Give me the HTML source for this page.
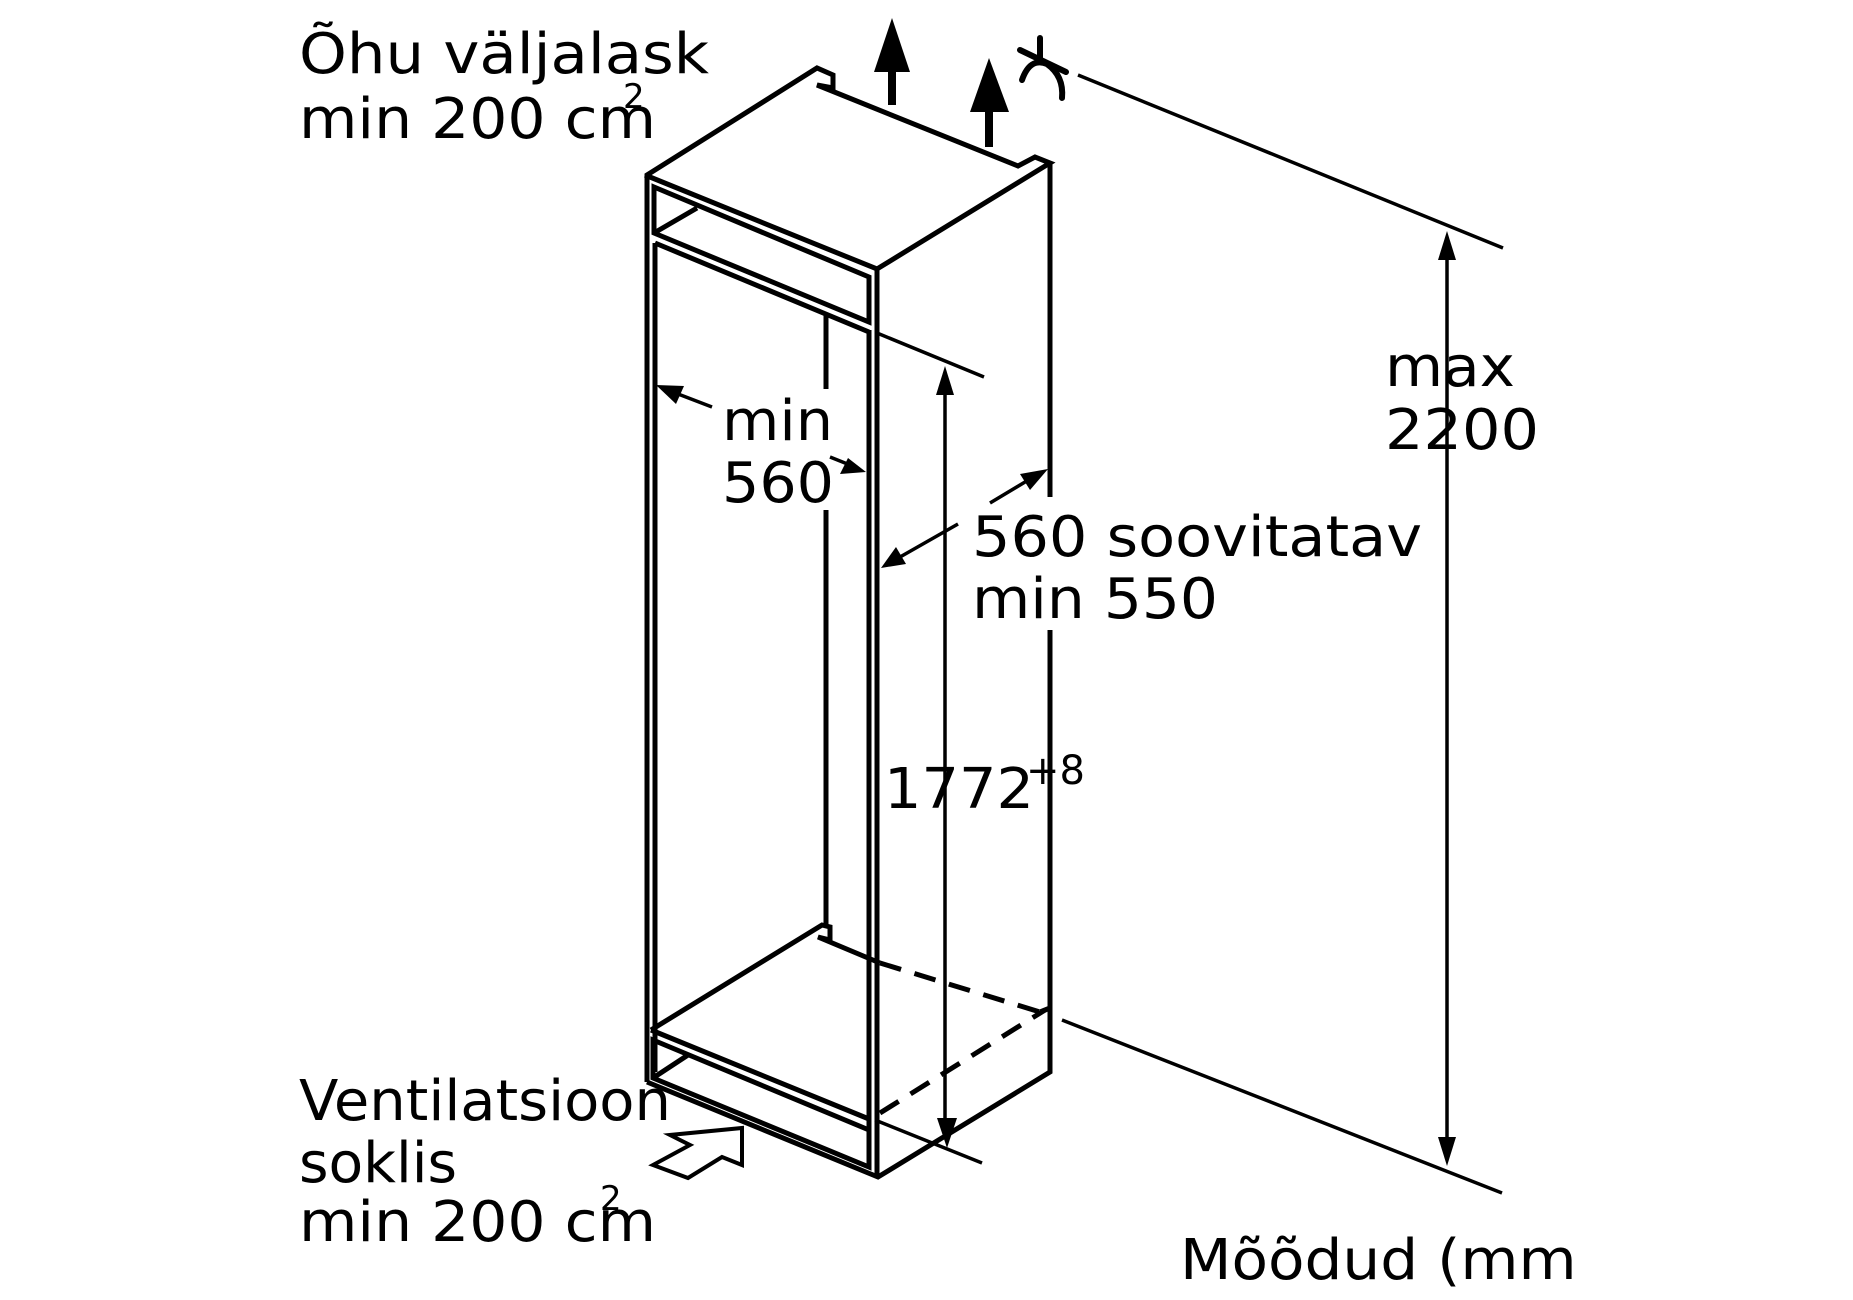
<!DOCTYPE html>
<html><head><meta charset="utf-8"><style>
html,body{margin:0;padding:0;background:#fff;width:1853px;height:1300px;overflow:hidden}
svg{display:block}
text{font-family:"DejaVu Sans","Liberation Sans",sans-serif;fill:#000}
</style></head><body>
<svg width="1853" height="1300" viewBox="0 0 1853 1300" xmlns="http://www.w3.org/2000/svg">
<defs><clipPath id="c"><rect x="0" y="0" width="1576" height="1300"/></clipPath></defs>
<g fill="none" stroke="#000" stroke-width="5" stroke-linejoin="miter">
<path d="M647,1082 L647,175 L817,68 L833,75 L833,88 L817,85 L1018,166 L1035,157 L1050,163 L877,269 L645,175"/>
<path d="M1050,163 L1050,497 M1050,630 L1050,1072 L878,1177 L647,1082"/>
<path d="M877,269 L877,1177 M869,330 L869,1167"/>
<path d="M654,187 L869,277 L869,322 L654,233 Z M654,233 L697,208"/>
<path d="M655,243 L869,332 M655,243 L655,1072"/>
<path d="M826,313 L826,389 M826,510 L826,925"/>
<path d="M651,1030 L869,1119 M651,1030 L822,925 L830,927 L830,940 L818,937 L880,963"/>
<path d="M653,1040 L869,1130 L869,1167 L653,1078 Z M653,1078 L688,1055"/>
<path d="M880,963 L1040,1012 M880,1113 L1045,1010" stroke-dasharray="22,14"/>
<path d="M1040,1012 L1050,1008"/>
<path d="M877,333 L984,377 M875,1120 L982,1163" stroke-width="3.5"/>
<path d="M1078,75 L1503,248 M1062,1020 L1502,1193" stroke-width="3.5"/>
<path d="M945,380 L945,1125" stroke-width="3.5"/>
<path d="M1447,245 L1447,1150" stroke-width="3.5"/>
<path d="M712,407 L665,389 M830,457 L855,467" stroke-width="3.5"/>
<path d="M990,503 L1035,476 M958,524 L893,561" stroke-width="3.5"/>
<path d="M892,105 L892,60 M989,147 L989,105" stroke-width="8"/>
<path d="M1040,38 L1040,62 M1020,50 L1066,72" stroke-width="6" stroke-linecap="round"/>
<path d="M1022,80 Q1030,57 1047,64 Q1064,76 1062,98" stroke-width="6" stroke-linecap="round"/>
<path d="M653,1165 L688,1178 L722,1157 L742,1165 L742,1128 L670,1135 L690,1145 Z" stroke-width="4"/>
</g>
<g fill="#000" stroke="none">
<polygon points="892,18 874,72 910,72"/>
<polygon points="989,58 970,112 1009,112"/>
<polygon points="945,366 936,395 954,395"/>
<polygon points="947,1148 937,1118 957,1118"/>
<polygon points="1447,231 1438,260 1456,260"/>
<polygon points="1447,1166 1438,1137 1456,1137"/>
<polygon points="656,385 684,386 676,404"/>
<polygon points="866,472 840,474 848,458"/>
<polygon points="1048,469 1020,474 1030,490"/>
<polygon points="881,568 896,547 906,564"/>
</g>
<g font-size="56">
<text x="299" y="73" textLength="410" lengthAdjust="spacingAndGlyphs">Õhu väljalask</text>
<text x="299" y="138" textLength="357" lengthAdjust="spacingAndGlyphs">min 200 cm</text>
<text x="623" y="108" font-size="34">2</text>
<text x="722" y="440" textLength="111" lengthAdjust="spacingAndGlyphs">min</text>
<text x="722" y="502" textLength="112" lengthAdjust="spacingAndGlyphs">560</text>
<text x="972" y="556" textLength="450" lengthAdjust="spacingAndGlyphs">560 soovitatav</text>
<text x="972" y="618" textLength="246" lengthAdjust="spacingAndGlyphs">min 550</text>
<text x="884" y="808" textLength="150" lengthAdjust="spacingAndGlyphs">1772</text>
<text x="1026" y="784" font-size="40" textLength="59" lengthAdjust="spacingAndGlyphs">+8</text>
<text x="1385" y="386" textLength="130" lengthAdjust="spacingAndGlyphs">max</text>
<text x="1385" y="449" textLength="154" lengthAdjust="spacingAndGlyphs">2200</text>
<text x="299" y="1120" textLength="372" lengthAdjust="spacingAndGlyphs">Ventilatsioon</text>
<text x="299" y="1182" textLength="158" lengthAdjust="spacingAndGlyphs">soklis</text>
<text x="299" y="1241" textLength="357" lengthAdjust="spacingAndGlyphs">min 200 cm</text>
<text x="600" y="1210" font-size="34">2</text>
<g clip-path="url(#c)"><text x="1180" y="1279" textLength="420" lengthAdjust="spacingAndGlyphs">Mõõdud (mm)</text></g>
</g>
</svg>
</body></html>
